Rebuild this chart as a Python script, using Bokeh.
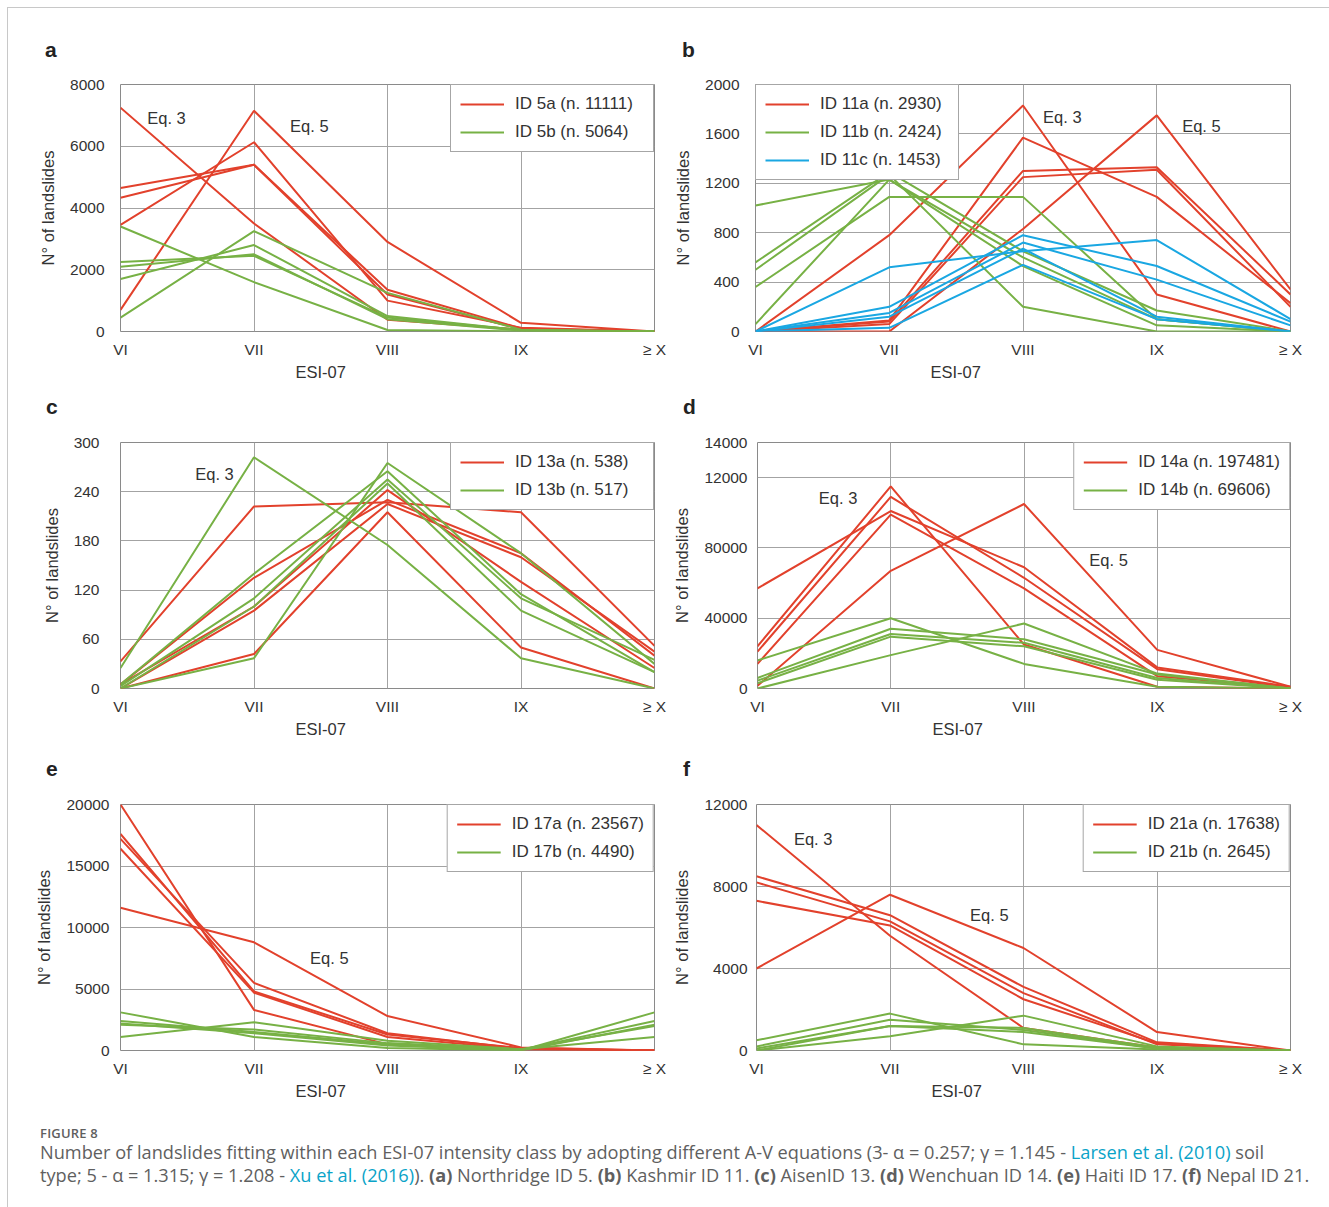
from bokeh.plotting import figure
from bokeh.models import Range1d, FixedTicker, Label, Legend, LegendItem, Div, Spacer, Title
from bokeh.layouts import row, column
from bokeh.embed import file_html
from bokeh.resources import INLINE

# ---------------- data ----------------
ESI = ["VI", "VII", "VIII", "IX", "\u2265 X"]
X = [0, 1, 2, 3, 4]

# (a) Northridge ID 5
A_RED = [
    [7250, 3500, 380, 60, 0],
    [700, 7150, 2900, 280, 0],
    [4650, 5400, 1350, 100, 0],
    [4330, 5400, 1200, 80, 0],
    [3450, 6130, 1000, 120, 0],
]
A_GREEN = [
    [3400, 1600, 50, 0, 0],
    [2250, 2450, 450, 50, 0],
    [2100, 2500, 400, 30, 0],
    [1700, 2800, 500, 40, 0],
    [450, 3250, 1250, 60, 0],
]
A_LEGEND = ["ID 5a (n. 11111)", "ID 5b (n. 5064)"]
A_YTICKS = [0, 2000, 4000, 6000, 8000]
A_YLABELS = ["0", "2000", "4000", "6000", "8000"]

# (b) Kashmir ID 11
B_RED = [
    [0, 780, 1830, 300, 0],
    [0, 90, 1570, 1090, 230],
    [0, 80, 1300, 1330, 300],
    [0, 60, 1250, 1310, 200],
    [0, 0, 830, 1750, 340],
]
B_GREEN = [
    [1020, 1230, 600, 100, 0],
    [560, 1290, 650, 170, 0],
    [500, 1270, 200, 0, 0],
    [360, 1090, 1090, 100, 0],
    [60, 1230, 530, 50, 0],
]
B_BLUE = [
    [0, 520, 650, 740, 100],
    [0, 200, 780, 530, 80],
    [0, 150, 720, 420, 50],
    [0, 120, 670, 120, 0],
    [0, 30, 540, 100, 0],
]
B_LEGEND = ["ID 11a (n. 2930)", "ID 11b (n. 2424)", "ID 11c (n. 1453)"]
B_YTICKS = [0, 400, 800, 1200, 1600, 2000]
B_YLABELS = ["0", "400", "800", "1200", "1600", "2000"]

# (c) Aisen ID 13
C_RED = [
    [33, 222, 227, 215, 52],
    [0, 42, 215, 50, 0],
    [5, 100, 242, 130, 25],
    [5, 135, 230, 165, 40],
    [0, 95, 225, 160, 45],
]
C_GREEN = [
    [25, 282, 175, 37, 0],
    [0, 37, 275, 165, 30],
    [5, 140, 265, 115, 20],
    [3, 110, 255, 110, 35],
    [0, 100, 250, 95, 20],
]
C_LEGEND = ["ID 13a (n. 538)", "ID 13b (n. 517)"]
C_YTICKS = [0, 60, 120, 180, 240, 300]
C_YLABELS = ["0", "60", "120", "180", "240", "300"]

# (d) Wenchuan ID 14
D_RED = [
    [57000, 101000, 69000, 12000, 1000],
    [24000, 115000, 25000, 1000, 0],
    [21000, 109000, 63000, 11000, 500],
    [14000, 99000, 57000, 7000, 500],
    [1500, 67000, 105000, 22000, 1000],
]
D_GREEN = [
    [16000, 40000, 14000, 1000, 0],
    [6000, 34000, 28000, 8000, 0],
    [4500, 31000, 26000, 6000, 0],
    [3000, 29500, 24000, 5000, 0],
    [0, 19000, 37000, 8500, 0],
]
D_LEGEND = ["ID 14a (n. 197481)", "ID 14b (n. 69606)"]
D_YTICKS = [0, 40000, 80000, 120000, 140000]
D_YLABELS = ["0", "40000", "80000", "12000", "14000"]

# (e) Haiti ID 17
E_RED = [
    [20000, 3300, 500, 100, 0],
    [17600, 4800, 1300, 200, 0],
    [17200, 5500, 1400, 150, 0],
    [16400, 4700, 1100, 100, 0],
    [11600, 8800, 2800, 250, 0],
]
E_GREEN = [
    [3100, 1100, 200, 0, 3100],
    [2400, 1500, 500, 50, 2400],
    [2200, 1400, 400, 0, 2100],
    [2100, 1700, 600, 100, 2000],
    [1100, 2300, 800, 100, 1100],
]
E_LEGEND = ["ID 17a (n. 23567)", "ID 17b (n. 4490)"]
E_YTICKS = [0, 5000, 10000, 15000, 20000]
E_YLABELS = ["0", "5000", "10000", "15000", "20000"]

# (f) Nepal ID 21
F_RED = [
    [11000, 5600, 1100, 150, 0],
    [8500, 6600, 3100, 400, 0],
    [8200, 6300, 2800, 300, 0],
    [7300, 6100, 2500, 350, 0],
    [4000, 7600, 5000, 900, 0],
]
F_GREEN = [
    [500, 1800, 300, 50, 0],
    [200, 1500, 1000, 100, 0],
    [100, 1200, 1100, 150, 0],
    [0, 1200, 900, 100, 0],
    [0, 700, 1700, 200, 0],
]
F_LEGEND = ["ID 21a (n. 17638)", "ID 21b (n. 2645)"]
F_YTICKS = [0, 4000, 8000, 12000]
F_YLABELS = ["0", "4000", "8000", "12000"]

# ---------------- style ----------------
RED = "#e2412c"
GREEN = "#77b145"
BLUE = "#1aa7e2"
FONT = "Liberation Sans"
TXT = "#333333"
GRID = "#a3a3a3"


def panel(series, legend_labels, yticks, ylabels, legend_loc, eqs,
          width, height, left, right, top, bottom, ystand):
    ymax = yticks[-1]
    p = figure(width=width, height=height, title=None, toolbar_location=None,
               output_backend="svg", x_range=Range1d(0, 4), y_range=Range1d(0, ymax),
               min_border_left=left, min_border_right=right,
               min_border_top=top, min_border_bottom=bottom,
               background_fill_color="white", border_fill_color="white")
    items = []
    for (rows, color), lab in zip(series, legend_labels):
        first = None
        for ys in rows:
            r = p.line(X, ys, line_color=color, line_width=2)
            if first is None:
                first = r
        items.append(LegendItem(label=lab, renderers=[first]))

    p.xaxis.ticker = FixedTicker(ticks=X)
    p.xaxis.major_label_overrides = {x: s for x, s in zip(X, ESI)}
    p.yaxis.ticker = FixedTicker(ticks=yticks)
    p.yaxis.major_label_overrides = {t: s for t, s in zip(yticks, ylabels)}
    for ax in (p.xaxis[0], p.yaxis[0]):
        ax.axis_line_color = None
        ax.major_tick_line_color = None
        ax.minor_tick_line_color = None
        ax.major_label_text_font = FONT
        ax.major_label_text_font_size = "15.5px"
        ax.major_label_text_color = TXT
    p.xaxis.major_label_standoff = 3
    p.yaxis.major_label_standoff = ystand
    p.yaxis.axis_label = "N\u00b0 of landslides"
    p.yaxis.axis_label_text_font = FONT
    p.yaxis.axis_label_text_font_style = "normal"
    p.yaxis.axis_label_text_font_size = "16.5px"
    p.yaxis.axis_label_text_color = TXT
    p.yaxis.axis_label_standoff = 10

    p.xgrid.grid_line_color = GRID
    p.ygrid.grid_line_color = GRID
    p.outline_line_color = "#8a8a8a"

    # x-axis title, set to the left of centre as in the original
    p.add_layout(Title(text="ESI-07", align="left", offset=175, standoff=0,
                       text_font=FONT, text_font_size="16.5px",
                       text_font_style="normal", text_color=TXT), "below")
    for (ex, ey, et) in eqs:
        p.add_layout(Label(x=ex, y=ey, text=et, text_align="left",
                           text_baseline="middle", text_font=FONT,
                           text_font_size="16.5px", text_color=TXT))

    leg = Legend(items=items, location=legend_loc, margin=0, padding=9,
                 spacing=8, glyph_width=44, glyph_height=20, label_height=20,
                 label_width=129, label_standoff=11, border_line_color="#4d4d4d",
                 border_line_width=1.5, background_fill_color="white",
                 background_fill_alpha=1.0, label_text_font=FONT,
                 label_text_font_size="17px", label_text_color=TXT)
    p.add_layout(leg)
    return p


LW, RW = 662, 659
fa = panel([(A_RED, RED), (A_GREEN, GREEN)], A_LEGEND, A_YTICKS, A_YLABELS, "top_right",
           [(0.2, 6930, "Eq. 3"), (1.27, 6670, "Eq. 5")],
           LW, 327, 112, 16, 16, 64, 10)
fb = panel([(B_RED, RED), (B_GREEN, GREEN), (B_BLUE, BLUE)], B_LEGEND, B_YTICKS, B_YLABELS, "top_left",
           [(2.15, 1733, "Eq. 3"), (3.19, 1668, "Eq. 5")],
           RW, 327, 85, 39, 16, 64, 10)
fc = panel([(C_RED, RED), (C_GREEN, GREEN)], C_LEGEND, C_YTICKS, C_YLABELS, "top_right",
           [(0.56, 261, "Eq. 3")],
           LW, 332, 112, 16, 17, 69, 15)
fd = panel([(D_RED, RED), (D_GREEN, GREEN)], D_LEGEND, D_YTICKS, D_YLABELS, "top_right",
           [(0.46, 108300, "Eq. 3"), (2.49, 73100, "Eq. 5")],
           RW, 332, 85, 39, 17, 69, 4)
fe = panel([(E_RED, RED), (E_GREEN, GREEN)], E_LEGEND, E_YTICKS, E_YLABELS, "top_right",
           [(1.42, 7480, "Eq. 5")],
           LW, 323, 112, 16, 17, 60, 5)
ff = panel([(F_RED, RED), (F_GREEN, GREEN)], F_LEGEND, F_YTICKS, F_YLABELS, "top_right",
           [(0.28, 10300, "Eq. 3"), (1.6, 6607, "Eq. 5")],
           RW, 323, 85, 39, 17, 60, 3)


def letter(ch, width, pad):
    html = ('<div style="font-family:\'Liberation Sans\';font-weight:bold;font-size:21px;'
            'line-height:23px;color:#222;padding-left:%dpx;">%s</div>' % (pad, ch))
    return Div(text=html, width=width, height=30, margin=0)


caption_html = (
    '<div style="font-family:\'Open Sans\';color:#5f5f5f;padding:15px 0 0 32px;white-space:nowrap;">'
    '<div style="font-size:13px;font-weight:600;line-height:16px;letter-spacing:0.2px;">FIGURE 8</div>'
    '<div style="font-size:18.2px;line-height:23px;">'
    'Number of landslides fitting within each ESI-07 intensity class by adopting different A-V equations '
    '(3- \u03b1 = 0.257; \u03b3 = 1.145 - <span style="color:#0aa3c8">Larsen et al. (2010)</span> soil<br>'
    'type; 5 - \u03b1 = 1.315; \u03b3 = 1.208 - <span style="color:#0aa3c8">Xu et al. (2016)</span>). '
    '<b>(a)</b> Northridge ID 5. <b>(b)</b> Kashmir ID 11. <b>(c)</b> AisenID 13. '
    '<b>(d)</b> Wenchuan ID 14. <b>(e)</b> Haiti ID 17. <b>(f)</b> Nepal ID 21.'
    '</div></div>'
)
caption = Div(text=caption_html, width=1321, height=97, margin=0)

content = column(
    Spacer(width=1321, height=30),
    row(letter("a", LW, 37), letter("b", RW, 12)),
    row(fa, fb),
    row(letter("c", LW, 38), letter("d", RW, 13)),
    row(fc, fd),
    row(letter("e", LW, 38), letter("f", RW, 13)),
    row(fe, ff),
    caption,
)

root = column(
    Spacer(width=1329, height=7),
    row(Spacer(width=7, height=1), Spacer(width=1322, height=1, styles={"background-color": "#c8c8c8"})),
    row(Spacer(width=7, height=1199),
        Spacer(width=1, height=1199, styles={"background-color": "#c8c8c8"}),
        content),
)

open("out.html", "w").write(file_html(root, INLINE))
